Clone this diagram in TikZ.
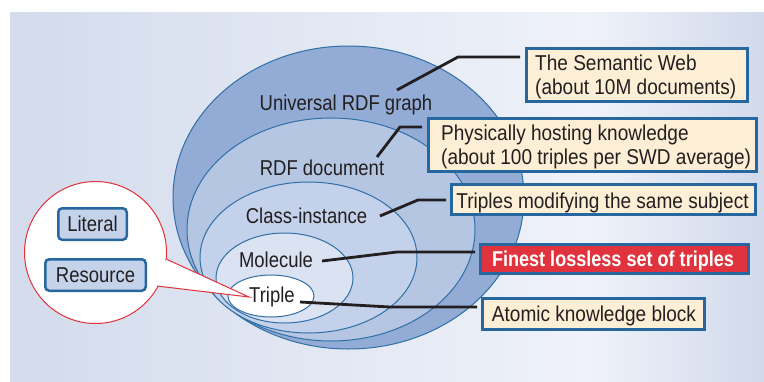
\documentclass[tikz,border=0pt]{standalone}
\usepackage{fontspec}
\setmainfont{Liberation Sans}[FakeStretch=0.86]
\newfontfamily\boxfont{Liberation Sans}[FakeStretch=0.885]
\newfontfamily\finefont{Liberation Sans}[FakeStretch=0.84]
\definecolor{bgl}{HTML}{D3DBEC}
\definecolor{bgm}{HTML}{EFF2F9}
\definecolor{bgr}{HTML}{D1D9EB}
\definecolor{eA}{HTML}{93ACD5}
\definecolor{eB}{HTML}{B5C6E3}
\definecolor{eC}{HTML}{C4D1EA}
\definecolor{eD}{HTML}{DBE2F1}
\definecolor{estroke}{HTML}{2F6FA6}
\definecolor{boxline}{HTML}{2767A0}
\definecolor{cream}{HTML}{FDEFD6}
\definecolor{redfill}{HTML}{E0333D}
\definecolor{calred}{HTML}{E2323A}
\definecolor{ink}{HTML}{231F20}
\definecolor{tagfill}{HTML}{C4D2EA}
\begin{document}
\begin{tikzpicture}[x=1pt,y=-1pt,
  ell/.style={draw=estroke,line width=1pt},
  lbl/.style={anchor=base,inner sep=0pt,text=ink,font=\fontsize{21.5}{24}\selectfont},
  infobox/.style={draw=boxline,line width=3pt,fill=cream,inner sep=0pt},
  boxtxt/.style={inner sep=0pt,text=ink,font=\boxfont\fontsize{21.5}{24}\selectfont},
  conn/.style={draw=ink,line width=2.8pt,line join=round},
  tag/.style={draw=boxline,line width=2.5pt,fill=tagfill,rounded corners=4pt,text=ink,inner sep=0pt,font=\fontsize{21.5}{24}\selectfont}]
\useasboundingbox (0,0) rectangle (764,381);
% background panel
\shade[left color=bgl,right color=bgm] (10,12) rectangle (590.5,381);
\shade[left color=bgm,right color=bgr] (590,12) rectangle (764,381);
% nested ellipses
\draw[ell,fill=eA] (348.5,197.5) ellipse [x radius=175.5pt, y radius=151.5pt];
\draw[ell,fill=eB] (331,229.5) ellipse [x radius=144pt, y radius=111.5pt];
\draw[ell,fill=eC] (308.5,257.5) ellipse [x radius=108.5pt, y radius=75.5pt];
\draw[ell,fill=eD] (284.5,278) ellipse [x radius=68.5pt, y radius=45pt];
\draw[ell,fill=white] (271,296) ellipse [x radius=43pt, y radius=21pt];
% callout bubble
\draw[draw=calred,fill=white,line width=1pt] (95.5,252.5) circle [radius=71pt];
\coordinate (ca) at (166,259);
\coordinate (cb) at (157,286);
\coordinate (tip) at (249,297);
\fill[white] (ca) -- (tip) -- (cb) -- cycle;
\draw[calred,line width=1pt,line join=miter] (ca) -- (tip) -- (cb);
\node[tag,minimum width=68.5pt,minimum height=31.5pt] (lit) at (92.5,224) {Literal};
\node[tag,minimum width=100.5pt,minimum height=31.5pt] (res) at (95.5,275) {Resource};
% ellipse labels
\node[lbl] (uni) at (346,110) {Universal RDF graph};
\node[lbl] (doc) at (322,175) {RDF document};
\node[lbl] (cls) at (306.5,223) {Class-instance};
\node[lbl] (mol) at (276,267) {Molecule};
\node[lbl] (tri) at (272,302) {Triple};
% info boxes
\node[infobox,minimum width=221pt,minimum height=53pt] (b1) at (637,75) {};
\node[boxtxt,anchor=base west] (b1a) at (535,70) {The Semantic Web};
\node[boxtxt,anchor=base west] (b1b) at (535,94.3) {(about 10M documents)};
\node[infobox,minimum width=328pt,minimum height=53pt] (b2) at (592.5,145) {};
\node[boxtxt,anchor=base west] (b2a) at (441,140) {Physically hosting knowledge};
\node[boxtxt,anchor=base west] (b2b) at (441,164.3) {(about 100 triples per SWD average)};
\node[infobox,minimum width=304pt,minimum height=30pt] (b3) at (603.5,199.5) {};
\node[boxtxt,anchor=base] (b3a) at (602.5,208) {Triples modifying the same subject};
\node[infobox,fill=redfill,minimum width=268pt,minimum height=29pt] (b4) at (614.5,259) {};
\node[inner sep=0pt,anchor=base,text=white,font=\finefont\bfseries\fontsize{21.5}{24}\selectfont] (b4a) at (613,266.5) {Finest lossless set of triples};
\node[infobox,minimum width=222pt,minimum height=31pt] (b5) at (593.5,314) {};
\node[boxtxt,anchor=base] (b5a) at (594,321.7) {Atomic knowledge block};
% connectors
\coordinate (s1) at (397,90);   \coordinate (k1) at (458,57);
\coordinate (s2) at (377,157);  \coordinate (k2) at (400,127);
\coordinate (s3) at (380,216);  \coordinate (k3) at (418,200);
\coordinate (s4) at (322,261);  \coordinate (k4) at (397,252);
\coordinate (s5) at (300,302);  \coordinate (k5) at (390,307);
\draw[conn,shorten >=5pt] (s1) -- (k1) -- (k1 -| b1.west);
\draw[conn,shorten >=5pt] (s2) -- (k2) -- (k2 -| b2.west);
\draw[conn,shorten >=4pt] (s3) -- (k3) -- (k3 -| b3.west);
\draw[conn,shorten >=4pt] (s4) -- (k4) -- (k4 -| b4.west);
\draw[conn,shorten >=4pt] (s5) -- (k5) -- (k5 -| b5.west);
\end{tikzpicture}
\end{document}
